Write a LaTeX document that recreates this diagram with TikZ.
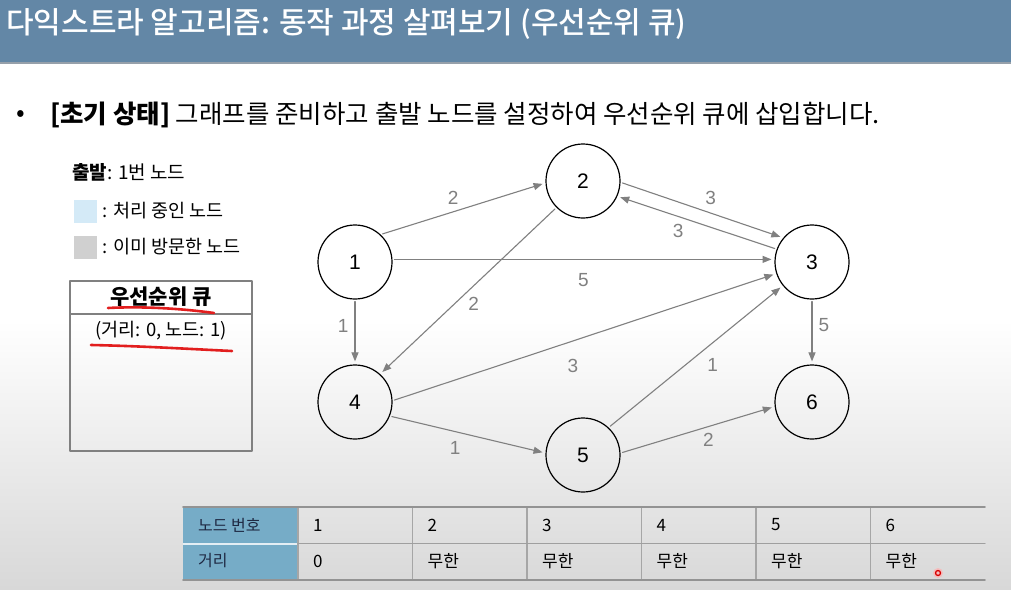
\documentclass[tikz,border=0pt]{standalone}
\usepackage{fontspec}
\setmainfont{Noto Sans CJK KR}
\newfontfamily\grfont{Liberation Sans}
\newfontfamily\titlefont{Noto Sans CJK KR Medium}
\usetikzlibrary{arrows.meta,positioning}
\definecolor{barblue}{RGB}{99,135,166}
\definecolor{barline}{RGB}{150,160,170}
\definecolor{cellblue}{RGB}{118,172,199}
\definecolor{procfill}{RGB}{212,234,247}
\definecolor{seenfill}{RGB}{208,208,208}
\definecolor{edgegray}{RGB}{128,128,128}
\definecolor{bggray}{RGB}{216,216,216}
\definecolor{navy}{RGB}{30,40,66}
\definecolor{penred}{RGB}{226,30,30}
\begin{document}
\begin{tikzpicture}[x=1pt, y=-1pt, line join=round, line cap=round,
  >={Triangle[length=9pt,width=7pt]},
  vertex/.style={circle, draw, line width=1.2pt, minimum size=74pt, inner sep=0pt,
    font=\grfont\fontsize{21}{21}\selectfont},
  edge/.style={->, draw=edgegray, line width=1.1pt, shorten <=2pt, shorten >=3pt},
  wlabel/.style={text=edgegray, font=\grfont\fontsize{19}{19}\selectfont, inner sep=3pt},
  legtext/.style={font=\fontsize{18.5}{18.5}\selectfont, inner sep=0pt},
  legbox/.style={minimum size=23pt, inner sep=0pt},
  cell/.style={anchor=west, font=\fontsize{16}{16}\selectfont, inner sep=0pt},
  redpen/.style={draw=penred, line width=2.6pt}]
  % background and title
  \fill[white] (0,0) rectangle (1011,589);
  \shade[top color=white, bottom color=bggray] (0,320) rectangle (1011,589);
  \fill[barblue] (0,0) rectangle (1011,62);
  \fill[barline] (0,62) rectangle (1011,63.5);
  \node[anchor=west, text=white, inner sep=0pt, font=\titlefont\fontsize{30}{30}\selectfont]
    (title) at (6,24) {다익스트라 알고리즘: 동작 과정 살펴보기 (우선순위 큐)};
  \node[anchor=west, inner sep=0pt, font=\fontsize{25.5}{25.5}\selectfont] (dot) at (16,116) {•};
  \node[anchor=west, inner sep=0pt, font=\fontsize{25.5}{25.5}\selectfont]
    (step) at (50,115) {\textbf{[초기 상태]} 그래프를 준비하고 출발 노드를 설정하여 우선순위 큐에 삽입합니다.};
  % legend
  \node[legtext, anchor=west, font=\fontsize{19}{19}\selectfont] (start) at (72,172) {\textbf{출발}: 1번 노드};
  \node[legbox, fill=procfill] (sqA) at (85,211) {};
  \node[legtext, right=6pt of sqA] (legA) {: 처리 중인 노드};
  \node[legbox, fill=seenfill] (sqB) at (85,247) {};
  \node[legtext, right=6pt of sqB] (legB) {: 이미 방문한 노드};
  % priority queue
  \node[draw=gray, line width=1.4pt, minimum width=182pt, minimum height=170pt,
    inner sep=0pt] (queue) at (161,366) {};
  \coordinate (qa) at (70,314);
  \coordinate (qb) at (252,314);
  \draw[gray, line width=1.4pt] (qa) -- (qb);
  \node[font=\bfseries\fontsize{21}{21}\selectfont, inner sep=0pt] (qhead) at (161,297) {우선순위 큐};
  \node[font=\fontsize{18.5}{18.5}\selectfont, inner sep=0pt] (qitem) at (161,331) {(거리: 0, 노드: 1)};
  \draw[redpen] (108,308) .. controls (145,306) and (185,309) .. (214,313);
  \draw[redpen] (91,345) .. controls (140,346) and (190,349) .. (232,351);
  % graph
  \node[vertex] (n1) at (355,262) {1};
  \node[vertex] (n2) at (583,181) {2};
  \node[vertex] (n3) at (812,262) {3};
  \node[vertex] (n4) at (355,402) {4};
  \node[vertex] (n5) at (583,455) {5};
  \node[vertex] (n6) at (812,402) {6};
  \draw[edge] (n1.47) -- (n2.183) node[wlabel, pos=0.44, above=4pt] {2};
  \draw[edge] (n2.-2) -- (n3.140) node[wlabel, midway, above right=2pt and 0pt] {3};
  \draw[edge] (n3.160) -- (n2.-24) node[wlabel, pos=0.55, below left=1pt and 2pt] {3};
  \draw[edge] (n1.4) -- (n3.176) node[wlabel, midway, below=10pt] {5};
  \draw[edge] (n2.225) -- (n4.48) node[wlabel, pos=0.52, below right=0pt and 0pt] {2};
  \draw[edge] (n1.270) -- (n4.90) node[wlabel, pos=0.4, left=3pt] {1};
  \draw[edge] (n3.270) -- (n6.90) node[wlabel, pos=0.4, right=3pt] {5};
  \draw[edge] (n4.2) -- (n3.198) node[wlabel, pos=0.47, below=15pt] {3};
  \draw[edge] (n5.47) -- (n3.219) node[wlabel, midway, below right=-2pt and 8pt] {1};
  \draw[edge] (n4.-22) -- (n5.177) node[wlabel, pos=0.42, below=6pt] {1};
  \draw[edge] (n5.3) -- (n6.187) node[wlabel, midway, below right=0pt and 2pt] {2};
  % distance table
  \fill[cellblue] (183,507) rectangle (298,542.5);
  \fill[cellblue] (183,544.5) rectangle (298,580);
  \fill[white!80!cellblue] (183,542.5) rectangle (298,544.5);
  \node[cell, text=navy] (hnode) at (198,525) {노드 번호};
  \node[cell, text=navy] (hdist) at (198,561) {거리};
  \foreach \i/\d in {1/0, 2/무한, 3/무한, 4/무한, 5/무한, 6/무한} {
    \pgfmathsetmacro{\cx}{298+(\i-1)*114.5}
    \coordinate (top\i) at (\cx,507);
    \coordinate (bot\i) at (\cx,580);
    \draw[gray!70, line width=1.1pt] (top\i) -- (bot\i);
    \node[cell, font=\fontsize{17}{17}\selectfont] (id\i) at (\cx+15,525) {\i};
    \node[cell, font=\fontsize{17}{17}\selectfont] (dist\i) at (\cx+15,561) {\d};
  }
  \coordinate (tl) at (183,507);
  \coordinate (tr) at (985,507);
  \coordinate (ml) at (298,543.5);
  \coordinate (mr) at (985,543.5);
  \coordinate (bl) at (183,580);
  \coordinate (br) at (985,580);
  \draw[gray!85, line width=1.6pt] (tl) -- (tr);
  \draw[gray!75, line width=1.3pt] (ml) -- (mr);
  \draw[gray!85, line width=1.6pt] (bl) -- (br);
  % pointer
  \fill[red!30, opacity=0.7] (938,573) circle (5);
  \draw[red!85!black, line width=1.3pt] (938,573) circle (2.5);
\end{tikzpicture}
\end{document}
